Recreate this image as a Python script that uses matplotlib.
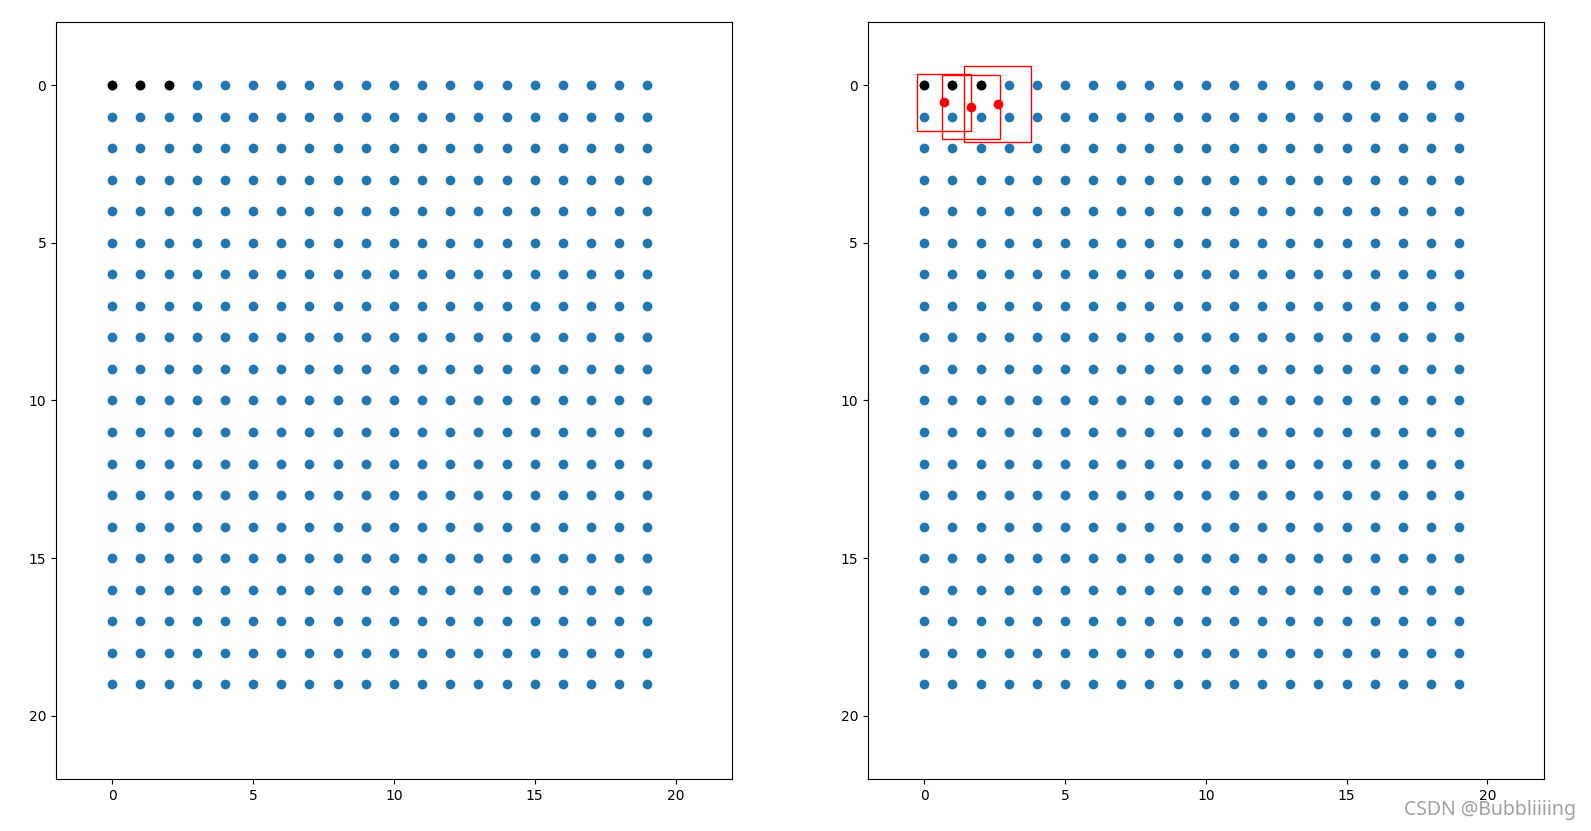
import numpy as np
import matplotlib
matplotlib.use("Agg")
import matplotlib.pyplot as plt
from matplotlib.patches import Rectangle

grid_x = list(range(20))
grid_y = list(range(20))
black_x = [0, 1, 2]
black_y = [0, 0, 0]
pred_x = [0.71, 1.67, 2.61]
pred_y = [0.54, 0.70, 0.60]
pred_w = [1.90, 2.05, 2.37]
pred_h = [1.81, 2.03, 2.41]

gx, gy = np.meshgrid(grid_x, grid_y)

fig = plt.figure(figsize=(15.91, 8.31), dpi=100)
ax1 = fig.add_axes([0.0352, 0.0626, 0.4248, 0.911])
ax2 = fig.add_axes([0.5455, 0.0626, 0.4248, 0.911])

for ax in (ax1, ax2):
    ax.scatter(gx.ravel(), gy.ravel())
    ax.scatter(black_x, black_y, c="black")
    ax.set_xlim(-2, 22)
    ax.set_ylim(22, -2)
    ax.set_xticks([0, 5, 10, 15, 20])
    ax.set_yticks([0, 5, 10, 15, 20])

ax2.scatter(pred_x, pred_y, c="red")
for cx, cy, w, h in zip(pred_x, pred_y, pred_w, pred_h):
    ax2.add_patch(Rectangle((cx - w / 2, cy - h / 2), w, h, fill=False, color="r"))

fig.text(0.9905, 0.025, "CSDN @Bubbliiiing", ha="right", va="center",
         fontsize=14, family="Noto Sans", color="#a0a0a0")

fig.savefig("out.png", dpi=100)
